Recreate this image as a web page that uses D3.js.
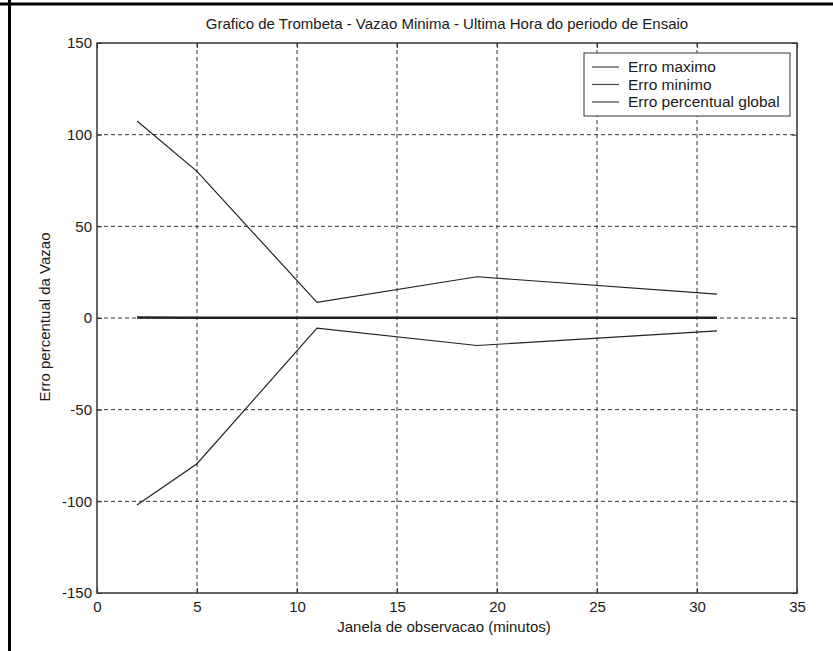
<!DOCTYPE html>
<html lang="pt">
<head>
    <meta charset="UTF-8">
    <title>Grafico de Trombeta</title>
    <script src="https://d3js.org/d3.v7.min.js"></script>
    <style>
        body { margin: 0; background: #fff; }
        svg text { font-family: 'Liberation Sans', Arial, sans-serif; fill: #1a1a1a; }
        .grid line { stroke: #333; stroke-dasharray: 4,3; stroke-width: 1; }
    </style>
</head>
<body>
<svg id="chart" width="833" height="651"></svg>
<script>
    // janela de observacao (minutos)
    const janela = [2, 5, 11, 19, 31];
    const erroMaximo = [107.5, 80, 8.5, 22.5, 13];
    const erroMinimo = [-102, -79.5, -5.5, -15, -7];
    const erroGlobal = [0.3, 0.2, 0.2, 0.1, 0.1];

    const xTicks = [0, 5, 10, 15, 20, 25, 30, 35];
    const yTicks = [-150, -100, -50, 0, 50, 100, 150];

    const svg = d3.select("#chart");

    // moldura da pagina (topo e esquerda)
    svg.append("line").attr("x1", 0).attr("x2", 833).attr("y1", 4).attr("y2", 4)
        .attr("stroke", "#000").attr("stroke-width", 3);
    svg.append("line").attr("x1", 9.5).attr("x2", 9.5).attr("y1", 0).attr("y2", 651)
        .attr("stroke", "#000").attr("stroke-width", 3);

    const x = d3.scaleLinear().domain([0, 35]).range([97, 797]);
    const y = d3.scaleLinear().domain([-150, 150]).range([593, 43]);

    // grade tracejada
    const grid = svg.append("g").attr("class", "grid");
    grid.selectAll(".gx").data(xTicks.slice(1, -1)).enter().append("line")
        .attr("x1", d => x(d)).attr("x2", d => x(d))
        .attr("y1", y(150)).attr("y2", y(-150));
    grid.selectAll(".gy").data(yTicks.slice(1, -1)).enter().append("line")
        .attr("x1", x(0)).attr("x2", x(35))
        .attr("y1", d => y(d)).attr("y2", d => y(d));

    // eixos com ticks para dentro (estilo matlab)
    const axisStyle = g => {
        g.select(".domain").remove();
        g.selectAll("line").attr("stroke", "#333");
        g.selectAll("text").attr("font-size", 15).attr("fill", "#1a1a1a")
            .attr("font-family", "'Liberation Sans', Arial, sans-serif");
    };
    const fmt = d => String(d);
    svg.append("g").attr("transform", `translate(0,${y(-150)})`)
        .call(d3.axisBottom(x).tickValues(xTicks).tickSize(-5).tickPadding(8).tickFormat(fmt))
        .call(axisStyle);
    svg.append("g").attr("transform", `translate(0,${y(150)})`)
        .call(d3.axisTop(x).tickValues(xTicks).tickSize(-5).tickFormat(""))
        .call(axisStyle);
    svg.append("g").attr("transform", `translate(${x(0)},0)`)
        .call(d3.axisLeft(y).tickValues(yTicks).tickSize(-5).tickPadding(5).tickFormat(fmt))
        .call(axisStyle);
    svg.append("g").attr("transform", `translate(${x(35)},0)`)
        .call(d3.axisRight(y).tickValues(yTicks).tickSize(-5).tickFormat(""))
        .call(axisStyle);

    // caixa do grafico
    svg.append("rect")
        .attr("x", x(0)).attr("y", y(150))
        .attr("width", x(35) - x(0)).attr("height", y(-150) - y(150))
        .attr("fill", "none").attr("stroke", "#333").attr("stroke-width", 1.5);

    // series
    const line = d3.line().x(d => x(d[0])).y(d => y(d[1]));
    const series = [
        { nome: "Erro maximo", valores: erroMaximo, largura: 1.2 },
        { nome: "Erro minimo", valores: erroMinimo, largura: 1.2 },
        { nome: "Erro percentual global", valores: erroGlobal, largura: 2.5 }
    ];
    series.forEach(s => {
        svg.append("path")
            .datum(janela.map((j, i) => [j, s.valores[i]]))
            .attr("d", line)
            .attr("fill", "none")
            .attr("stroke", "#222")
            .attr("stroke-width", s.largura);
    });

    // legenda
    const leg = svg.append("g").attr("transform", "translate(584,53)");
    leg.append("rect").attr("width", 206).attr("height", 63)
        .attr("fill", "#fff").attr("stroke", "#333").attr("stroke-width", 1);
    series.forEach((s, i) => {
        const yy = 14 + i * 17.5;
        leg.append("line").attr("x1", 8).attr("x2", 35).attr("y1", yy).attr("y2", yy)
            .attr("stroke", "#444").attr("stroke-width", 1.2);
        leg.append("text").attr("x", 44).attr("y", yy).attr("dy", "0.35em")
            .attr("font-size", 15.5).text(s.nome);
    });

    // titulos
    svg.append("text").attr("x", 447).attr("y", 24).attr("dy", "0.35em")
        .attr("text-anchor", "middle").attr("font-size", 15)
        .text("Grafico de Trombeta - Vazao Minima - Ultima Hora do periodo de Ensaio");
    svg.append("text").attr("x", 444).attr("y", 627).attr("dy", "0.35em")
        .attr("text-anchor", "middle").attr("font-size", 15)
        .text("Janela de observacao (minutos)");
    svg.append("text")
        .attr("transform", "translate(45,317) rotate(-90)")
        .attr("dy", "0.35em")
        .attr("text-anchor", "middle").attr("font-size", 15)
        .text("Erro percentual da Vazao");
</script>
</body>
</html>
